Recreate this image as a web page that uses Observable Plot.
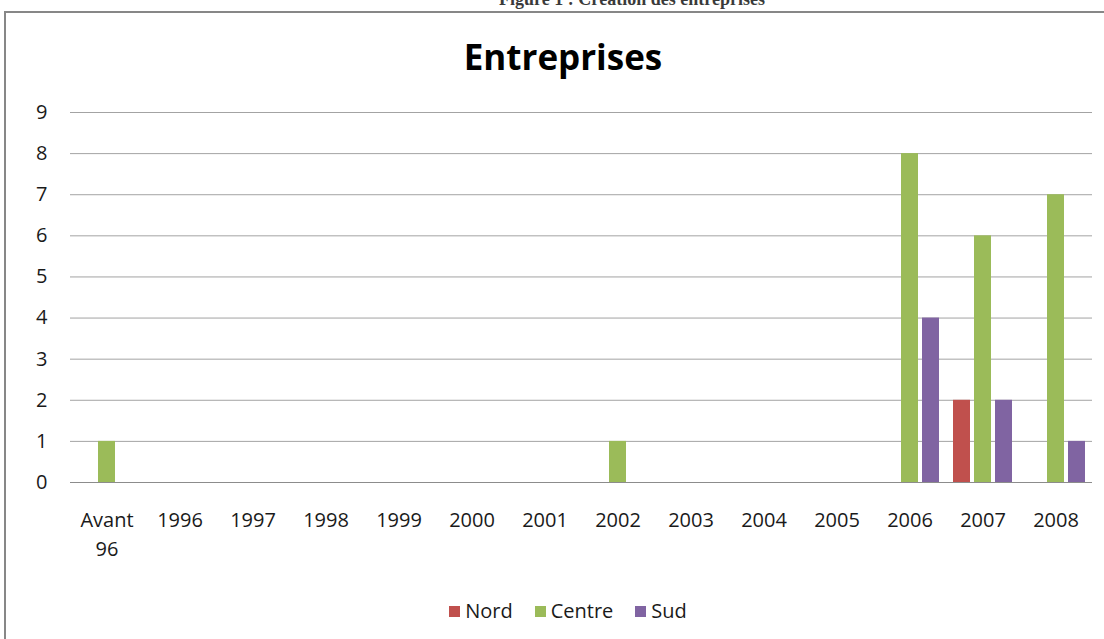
<!DOCTYPE html>
<html><head><meta charset="utf-8">
<script src="https://cdn.jsdelivr.net/npm/d3@7"></script>
<script src="https://cdn.jsdelivr.net/npm/@observablehq/plot@0.6"></script>
<style>
html,body{margin:0;padding:0;background:#fff;}
body{width:1104px;height:639px;overflow:hidden;position:relative;font-family:"Open Sans",sans-serif;}
#caption{position:absolute;left:0;top:-10px;width:1264px;text-align:center;font:bold 18px/1 "Liberation Serif",serif;color:#3a3a3a;white-space:nowrap;}
#frame{position:absolute;left:4px;top:11px;width:1120px;height:660px;border:2px solid #878787;box-sizing:border-box;z-index:2;pointer-events:none;}
#title{position:absolute;left:0;top:39px;width:1126px;text-align:center;font:bold 35px/1 "Open Sans",sans-serif;color:#000;}
#chart{position:absolute;left:0;top:90px;}
#legend{position:absolute;left:0;top:597px;width:1136px;display:flex;justify-content:center;gap:22px;font:20px/28px "Open Sans",sans-serif;color:#1a1a1a;}
#legend span.item{display:flex;align-items:center;gap:5px;}
#legend span.sw{display:inline-block;width:11px;height:11px;}
</style>
</head><body>
<div id="caption">Figure 1 : Création des entreprises</div>
<div id="frame"></div>
<div id="title">Entreprises</div>
<div id="chart"></div>
<div id="legend"></div>
<script>
const categories = ["Avant\n96","1996","1997","1998","1999","2000","2001","2002","2003","2004","2005","2006","2007","2008"];
const series = ["Nord","Centre","Sud"];
const nord   = [0,0,0,0,0,0,0,0,0,0,0,0,2,0];
const centre = [1,0,0,0,0,0,0,1,0,0,0,8,6,7];
const sud    = [0,0,0,0,0,0,0,0,0,0,0,4,2,1];
const yTicks = [0,1,2,3,4,5,6,7,8,9];
const colors = ["#C0504D","#9BBB59","#8064A2"];

const valuesBySeries = {Nord: nord, Centre: centre, Sud: sud};
const rows = [];
categories.forEach((c, i) => series.forEach(s => rows.push({cat: c, series: s, value: valuesBySeries[s][i]})));

const chart = Plot.plot({
  width: 1104,
  height: 480,
  marginLeft: 70,
  marginRight: 12,
  marginTop: 22,
  marginBottom: 88,
  style: {fontFamily: "'Open Sans', sans-serif", background: "none"},
  fx: {domain: categories, padding: 0, label: null},
  x: {domain: series, paddingInner: 0.21, paddingOuter: 0.3, axis: null},
  y: {domain: [0, 9], label: null},
  color: {domain: series, range: colors},
  marks: [
    Plot.ruleY(yTicks.filter(d => d > 0), {stroke: "#a3a3a3", strokeWidth: 1}),
    Plot.ruleY([0], {stroke: "#8c8c8c", strokeWidth: 1.2}),
    Plot.barY(rows, {fx: "cat", x: "series", y: "value", fill: "series"}),
    Plot.axisY({ticks: yTicks, tickSize: 0, tickPadding: 23, fontSize: 20, fill: "#1a1a1a", label: null, tickFormat: d => String(d)}),
    Plot.axisFx({anchor: "bottom", tickSize: 0, tickPadding: 24, fontSize: 20, lineHeight: 1.45, fill: "#1a1a1a", label: null})
  ]
});
document.getElementById("chart").appendChild(chart);

const legend = document.getElementById("legend");
series.forEach((s, i) => {
  const item = document.createElement("span");
  item.className = "item";
  const sw = document.createElement("span");
  sw.className = "sw";
  sw.style.background = colors[i];
  const t = document.createElement("span");
  t.textContent = s;
  item.appendChild(sw); item.appendChild(t);
  legend.appendChild(item);
});
</script>
</body></html>
